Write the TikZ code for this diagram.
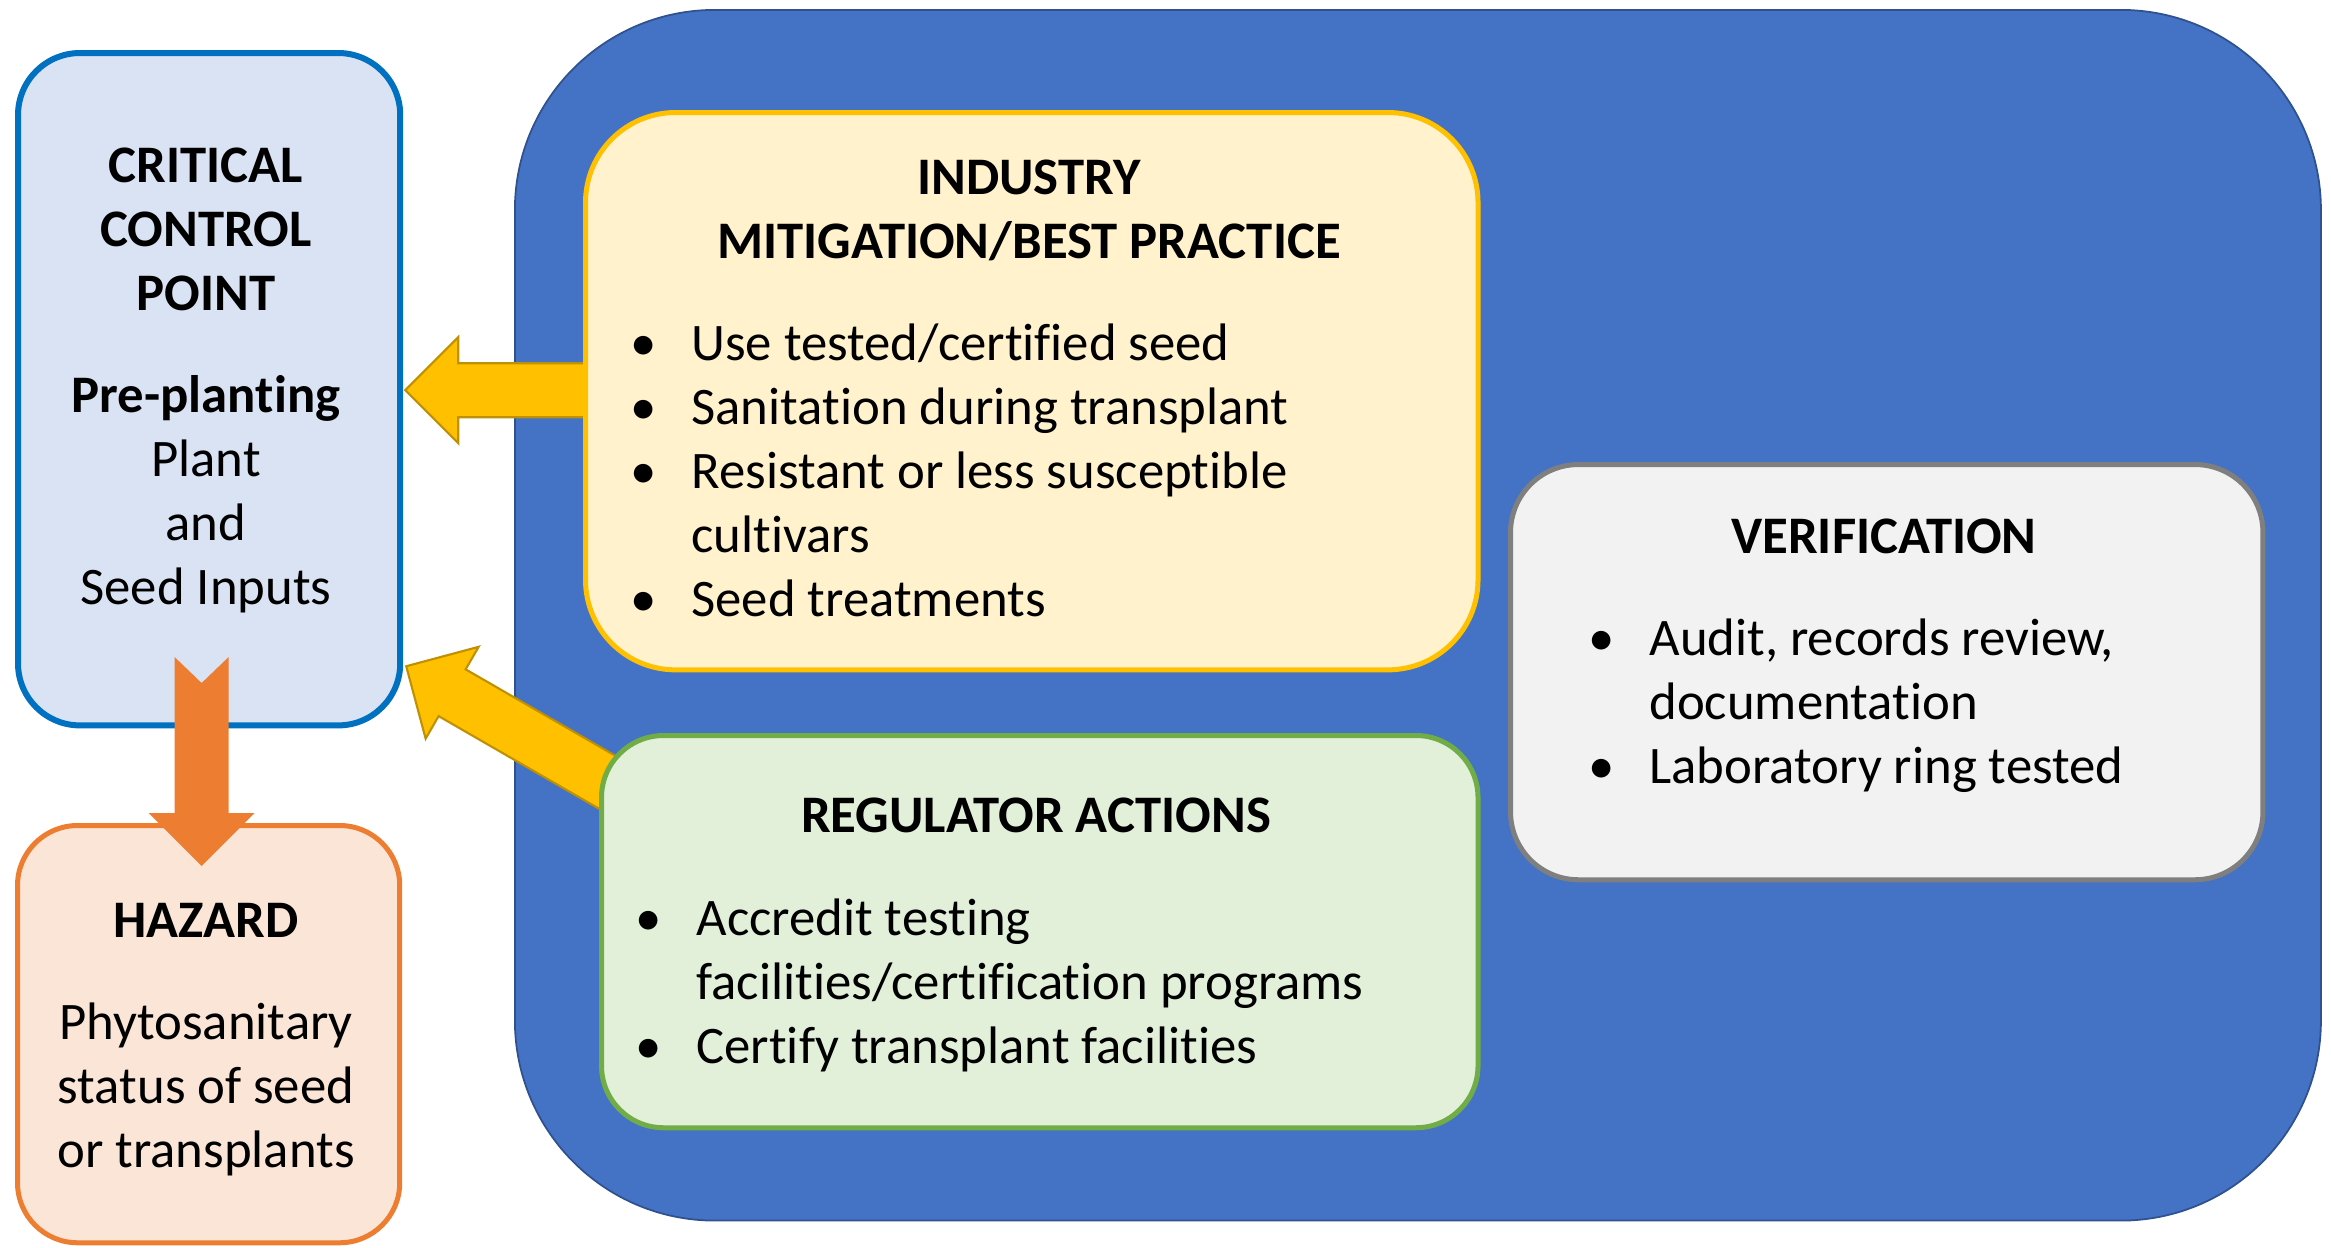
\documentclass[tikz,border=0pt]{standalone}
\usepackage{fontspec}
\setmainfont[Ligatures=NoCommon]{Carlito}
\usetikzlibrary{calc}
\definecolor{PanelBlue}{HTML}{4472C4}
\definecolor{PanelEdge}{HTML}{2F528F}
\definecolor{CCPFill}{HTML}{DAE3F3}
\definecolor{CCPEdge}{HTML}{0070C0}
\definecolor{HazFill}{HTML}{FBE5D6}
\definecolor{HazEdge}{HTML}{ED7D31}
\definecolor{IndFill}{HTML}{FFF2CC}
\definecolor{IndEdge}{HTML}{FFC000}
\definecolor{RegFill}{HTML}{E2F0D9}
\definecolor{RegEdge}{HTML}{70AD47}
\definecolor{VerFill}{HTML}{F2F2F2}
\definecolor{VerEdge}{HTML}{7F7F7F}
\definecolor{ArrowGold}{HTML}{FFC000}
\definecolor{ArrowGoldEdge}{HTML}{BF9000}
\newcommand{\bodyfont}{\fontsize{15}{18.2}\selectfont}
\newcommand{\bitem}[1]{\makebox[0.61cm][l]{\textbullet}#1}
\newcommand{\bcont}[1]{\hspace*{0.61cm}#1}
\pgfdeclarelayer{panel}
\pgfdeclarelayer{arrows}
\pgfsetlayers{panel,arrows,main}
\tikzset{
  shaftlen/.store in=\shaftlen, shaftlen=200,
  fatarrow/.pic={
    \path[pic actions] (0,0) -- (-53,53) -- (-53,27) -- (-\shaftlen,27)
      -- (-\shaftlen,-27) -- (-53,-27) -- (-53,-53) -- cycle;
  },
  notcharrow/.pic={
    \path[pic actions] (0,0) -- (-53,53) -- (-53,27) -- (-\shaftlen,27)
      -- (-\shaftlen+26,0) -- (-\shaftlen,-27) -- (-53,-27) -- (-53,-53) -- cycle;
  },
  box/.style={draw, anchor=north west, inner sep=0pt, line width=0.05cm},
  % multi-line nodes sit on the baseline of their last line
  head/.style={font=\bodyfont\bfseries, anchor=base, align=center},
  body/.style={font=\bodyfont, anchor=base, align=center},
  items/.style={font=\bodyfont, anchor=base west, align=left},
}

\begin{document}
\begin{tikzpicture}[x=0.01cm, y=-0.01cm]
  \useasboundingbox (0,0) rectangle (2331,1247);
  % big blue panel behind the three action boxes
  \begin{pgfonlayer}{panel}
    \node[box, fill=PanelBlue, draw=PanelEdge, line width=0.5pt, rounded corners=2cm,
      minimum width=18.05cm, minimum height=12.1cm] (panel) at (514,9) {};
  \end{pgfonlayer}

  \node[box, fill=CCPFill, draw=CCPEdge, line width=0.06cm, rounded corners=0.62cm,
    minimum width=3.82cm, minimum height=6.72cm] (ccp) at (15,50) {};
  \node[box, fill=HazFill, draw=HazEdge, rounded corners=0.6cm,
    minimum width=3.82cm, minimum height=4.17cm] (hazard) at (15,823) {};
  \node[box, fill=IndFill, draw=IndEdge, rounded corners=0.9cm,
    minimum width=8.92cm, minimum height=5.57cm] (industry) at (583,110) {};
  \node[box, fill=RegFill, draw=RegEdge, rounded corners=0.62cm,
    minimum width=8.76cm, minimum height=3.92cm] (regulator) at (599,733) {};
  \node[box, fill=VerFill, draw=VerEdge, rounded corners=0.68cm,
    minimum width=7.52cm, minimum height=4.15cm] (verify) at (1508,462) {};

  % fat arrows into the control point, tails hidden under the boxes
  \begin{pgfonlayer}{arrows}
    \pic[fill=ArrowGold, draw=ArrowGoldEdge, line width=0.6pt, shaftlen=200, rotate=180]
      at ($(ccp.east)+(2,1)$) {fatarrow};
    \pic[fill=ArrowGold, draw=ArrowGoldEdge, line width=0.6pt, shaftlen=260, rotate=150]
      at ($(ccp.east)+(3,277)$) {fatarrow};
  \end{pgfonlayer}
  \pic[fill=HazEdge, shaftlen=209, rotate=-90] at ($(hazard.north)+(-7,43)$) {notcharrow};

  \node[head] (ccphead) at (206,310) {CRITICAL\\CONTROL\\POINT};
  \node[body] (ccpbody) at (206,604) {\textbf{Pre-planting}\\Plant\\and\\Seed Inputs};
  \node[head] (hazhead) at (206,937) {HAZARD};
  \node[body] (hazbody) at (206,1167) {Phytosanitary\\status of seed\\or transplants};

  \node[head] (indhead) at (1029,258) {INDUSTRY\\MITIGATION/BEST PRACTICE};
  \node[items] (indlist) at (618,616) {\bitem{Use tested/certified seed}\\
    \bitem{Sanitation during transplant}\\
    \bitem{Resistant or less susceptible}\\
    \bcont{cultivars}\\
    \bitem{Seed treatments}};

  \node[head] (reghead) at (1036,832) {REGULATOR ACTIONS};
  \node[items] (reglist) at (623,1063) {\bitem{Accredit testing}\\
    \bcont{facilities/certification programs}\\
    \bitem{Certify transplant facilities}};

  \node[head] (verhead) at (1884,553) {VERIFICATION};
  \node[items] (verlist) at (1576,783) {\bitem{Audit, records review,}\\
    \bcont{documentation}\\
    \bitem{Laboratory ring tested}};
\end{tikzpicture}
\end{document}
